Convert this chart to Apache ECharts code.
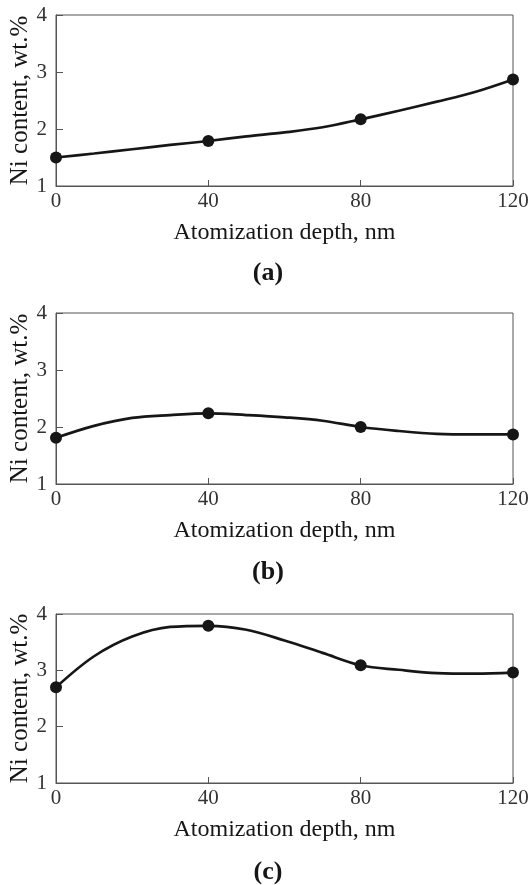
<!DOCTYPE html>
<html>
<head>
<meta charset="utf-8">
<script src="https://cdn.jsdelivr.net/npm/echarts@6/dist/echarts.min.js"></script>
<style>
  html, body { margin: 0; padding: 0; background: #fff; }
  #chart { width: 530px; height: 885px; }
</style>
</head>
<body>
<div id="chart"></div>
<script>
// measured points (markers)
const markerDepth = [0, 40, 80, 120];
const niA = [1.50, 1.79, 2.17, 2.87];
const niB = [1.81, 2.24, 2.00, 1.87];
const niC = [2.70, 3.79, 3.09, 2.96];

// fitted curves, every 10 nm
const curveDepth = [0, 10, 20, 30, 40, 50, 60, 70, 80, 90, 100, 110, 120];
const curveNiA = [1.50, 1.57, 1.645, 1.72, 1.79, 1.87, 1.94, 2.03, 2.17, 2.32, 2.48, 2.65, 2.87];
const curveNiB = [1.81, 2.02, 2.16, 2.21, 2.24, 2.21, 2.17, 2.11, 2.00, 1.93, 1.88, 1.87, 1.87];
const curveNiC = [2.70, 3.25, 3.60, 3.77, 3.79, 3.72, 3.53, 3.31, 3.09, 3.01, 2.95, 2.94, 2.96];

const panelLabels = ["(a)", "(b)", "(c)"];
const xName = "Atomization depth, nm";
const yName = "Ni content, wt.%";

const FONT = "Liberation Serif";
const INK = "#161616";
const FRAME = "#555";

const grids = [
  { left: 56, right: 17, top: 15, height: 171 },
  { left: 56, right: 17, top: 313, height: 171 },
  { left: 56, right: 17, top: 614, height: 169 },
];

const zip = (xs, ys) => xs.map((x, i) => [x, ys[i]]);

const curves = [zip(curveDepth, curveNiA), zip(curveDepth, curveNiB), zip(curveDepth, curveNiC)];
const markers = [zip(markerDepth, niA), zip(markerDepth, niB), zip(markerDepth, niC)];

const chart = echarts.init(document.getElementById("chart"), null, { renderer: "canvas" });

const option = {
  animation: false,
  backgroundColor: "#fff",
  grid: grids.map((g) => ({
    ...g,
    show: true,
    borderColor: FRAME,
    borderWidth: 1,
    backgroundColor: "transparent",
    containLabel: false,
    outerBoundsMode: "none",
  })),
  xAxis: grids.map((_, i) => ({
    type: "value",
    gridIndex: i,
    min: 0,
    max: 120,
    interval: 40,
    name: xName,
    nameLocation: "middle",
    nameGap: 35,
    nameMoveOverlap: false,
    nameTextStyle: { fontFamily: FONT, fontSize: 24, color: INK },
    axisLine: { show: true, lineStyle: { color: FRAME, width: 1 } },
    axisTick: { show: true, inside: true, length: 6, lineStyle: { color: FRAME } },
    axisLabel: { fontFamily: FONT, fontSize: 21, color: "#333", margin: 5 },
    splitLine: { show: false },
  })),
  yAxis: grids.map((_, i) => ({
    type: "value",
    gridIndex: i,
    min: 1,
    max: 4,
    interval: 1,
    name: yName,
    nameLocation: "middle",
    nameGap: 23,
    nameMoveOverlap: false,
    nameRotate: 90,
    nameTextStyle: { fontFamily: FONT, fontSize: 25, color: INK },
    axisLine: { show: true, lineStyle: { color: FRAME, width: 1 } },
    axisTick: { show: true, inside: true, length: 7, lineStyle: { color: FRAME } },
    axisLabel: { fontFamily: FONT, fontSize: 21, color: "#333", margin: 9 },
    splitLine: { show: false },
  })),
  series: [
    ...curves.map((data, i) => ({
      type: "line",
      xAxisIndex: i,
      yAxisIndex: i,
      data,
      smooth: 0.35,
      showSymbol: false,
      lineStyle: { color: INK, width: 2.7 },
      silent: true,
    })),
    ...markers.map((data, i) => ({
      type: "scatter",
      xAxisIndex: i,
      yAxisIndex: i,
      data,
      symbol: "circle",
      symbolSize: 12,
      itemStyle: { color: INK, opacity: 1 },
      silent: true,
    })),
  ],
  graphic: panelLabels.map((text, i) => ({
    type: "text",
    x: 268,
    y: [273, 572, 872][i],
    style: {
      text,
      fontFamily: FONT,
      fontSize: 26,
      fontWeight: "bold",
      fill: INK,
      textAlign: "center",
      textVerticalAlign: "middle",
    },
  })),
};

chart.setOption(option);
</script>
</body>
</html>
